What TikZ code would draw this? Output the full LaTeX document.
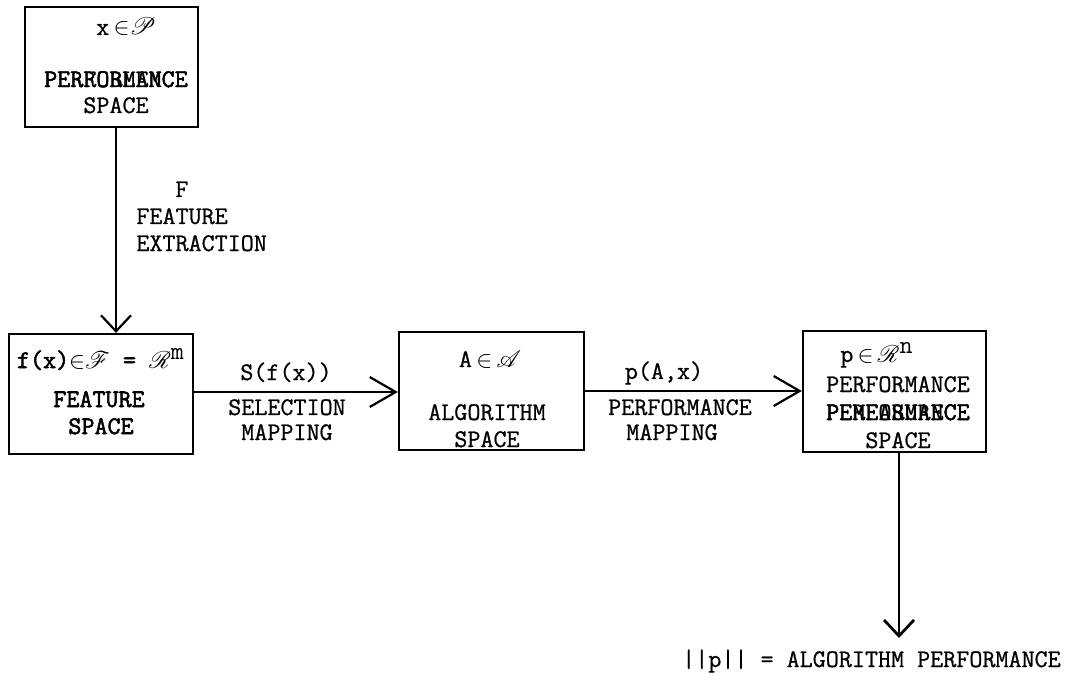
\documentclass[tikz,border=0pt]{standalone}
\usepackage{fontspec}
\usepackage{mathrsfs}
\newfontfamily\twfont{Latin Modern Mono}[FakeBold=0.8]
\newfontfamily\twbold{Latin Modern Mono}[FakeBold=2.2]
\usetikzlibrary{arrows.meta}
\tikzset{
  box/.style={draw, line width=1.1pt, inner sep=0pt},
  txt/.style={inner sep=0pt, anchor=base, font=\fontsize{12.67}{15}\selectfont\twfont},
  ltxt/.style={txt, anchor=base west},
  btxt/.style={txt, font=\fontsize{12.67}{15}\selectfont\twbold},
  conn/.style={line width=1.1pt},
  bigtip/.style={-{Straight Barb[length=13pt,width=15pt]}},
  smalltip/.style={-{Straight Barb[length=8pt,width=15pt]}},
}
\begin{document}
\begin{tikzpicture}[x=0.5pt,y=-0.5pt]
\useasboundingbox (0,0) rectangle (1067,674);

% boxes
\node[box, minimum width=86.5pt, minimum height=60pt] (prob) at (111.5,67) {};
\node[box, minimum width=92pt, minimum height=60pt] (feat) at (101,394) {};
\node[box, minimum width=92.5pt, minimum height=59pt] (alg) at (491.5,391) {};
\node[box, minimum width=91.5pt, minimum height=60.5pt] (perf) at (894.5,391.5) {};

% problem space text
\node[txt] (probsym) at (126,35) {x\,$\mathord{\in}\mathscr{P}$};
\node[txt] (probA) at (116,87) {PERFORMANCE};
\node[txt] (probB) at (116,87) {PERROBLEMCE};
\node[txt] (probsp) at (116,113) {SPACE};

% feature space text
\node[btxt] (featsym) at (101,368) {f(x)$\mathord{\in}\mathscr{F}$ = $\mathscr{R}^{\texttt{m}}$};
\node[btxt] (feat1) at (99,407) {FEATURE};
\node[btxt] (feat2) at (101,434) {SPACE};

% algorithm space text
\node[txt] (algsym) at (490,367) {A\,$\mathord{\in}\,\mathscr{A}$};
\node[txt] (alg1) at (487,420) {ALGORITHM};
\node[txt] (alg2) at (487,447) {SPACE};

% performance space text
\node[txt] (perfsym) at (877,362) {p\,$\mathord{\in}\,\mathscr{R}^{\texttt{n}}$};
\node[txt] (perf1) at (898,392) {PERFORMANCE};
\node[txt] (perf2a) at (898,420) {PERFORMANCE};
\node[txt] (perf2b) at (898,420) {PEMEASURECE};
\node[txt] (perf3) at (898,448) {SPACE};

% connectors
\coordinate (c1) at (116,0);
\coordinate (c2) at (0,392);
\coordinate (c3) at (0,391);
\coordinate (c4) at (899,0);
\coordinate (end) at (899,638);
\draw[conn, smalltip] (prob.south -| c1) -- (feat.north -| c1);
\draw[conn, bigtip] (feat.east |- c2) -- (alg.west |- c2);
\draw[conn, bigtip] (alg.east |- c3) -- (perf.west |- c3);
\draw[line width=1.4pt, smalltip] (perf.south -| c4) -- (end);

% connector labels
\node[txt] (lF) at (182,197) {F};
\node[ltxt] (lF1) at (136,224) {FEATURE};
\node[ltxt] (lF2) at (136,251) {EXTRACTION};

\node[txt] (lS) at (286,380) {S(f(x))};
\node[txt] (lS1) at (287,415) {SELECTION};
\node[txt] (lS2) at (287,440) {MAPPING};

\node[txt] (lP) at (664,379) {p(A,x)};
\node[txt] (lP1) at (680,415) {PERFORMANCE};
\node[txt] (lP2) at (672,440) {MAPPING};

\node[txt] (result) at (871.5,667) {||p|| = ALGORITHM PERFORMANCE};
\end{tikzpicture}
\end{document}
